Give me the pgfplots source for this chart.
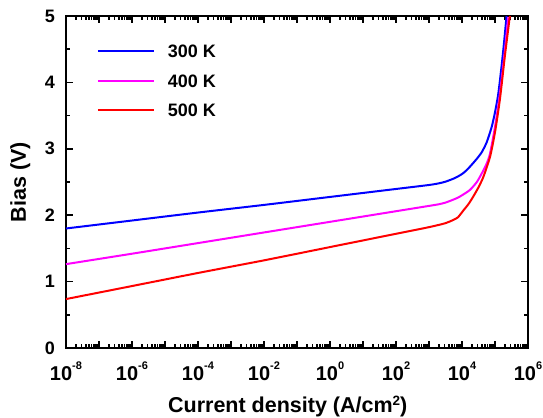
\documentclass[border=0pt]{standalone}
\usepackage{fontspec}
\setmainfont{Liberation Sans}
\usepackage{pgfplots}
\pgfplotsset{compat=1.18}
\newcommand\ep[1]{10\raisebox{11bp}{\fontsize{11bp}{11bp}\selectfont\bfseries #1}}
\begin{document}
\begin{tikzpicture}
% axis 1: frame, ticks and tick labels
\begin{axis}[
  scale only axis, width=462bp, height=332bp,
  xmode=log, xmin=1e-8, xmax=1e6, ymin=0, ymax=5,
  xtick={1e-8,1e-7,1e-6,1e-5,1e-4,1e-3,1e-2,1e-1,1,1e1,1e2,1e3,1e4,1e5,1e6},
  xticklabels={\ep{-8},,\ep{-6},,\ep{-4},,\ep{-2},,\ep{0},,\ep{2},,\ep{4},,\ep{6}},
  ytick={0,1,2,3,4,5}, minor y tick num=1,
  every tick/.style={line width=1.5bp, draw=black},
  major tick length=7bp, minor tick length=4bp,
  tick align=inside,
  /pgf/number format/assume math mode=true,
  xticklabel style={font=\fontsize{20bp}{20bp}\selectfont\bfseries, anchor=base, inner sep=0pt, yshift=-32.7bp},
  yticklabel style={font=\fontsize{18bp}{18bp}\selectfont\bfseries, anchor=east, inner sep=0pt, xshift=-11bp},
]
\addplot[draw=none] coordinates {(1,1) (10,2)};
\end{axis}
% axis 2: curves, labels, legend
\begin{axis}[
  scale only axis, width=462bp, height=332bp,
  xmode=log, xmin=1e-8, xmax=1e6, ymin=0, ymax=5,
  xtick=\empty, ytick=\empty,
  axis line style={line width=2bp},
  xlabel={Current density (A/cm\raisebox{7bp}{\fontsize{13.5bp}{13.5bp}\selectfont 2})},
  ylabel={Bias (V)},
  label style={font=\fontsize{21.5bp}{21.5bp}\selectfont\bfseries, inner sep=0pt},
  xlabel style={at={(axis description cs:0.48,-0.1928)}, anchor=base},
  ylabel style={at={(axis description cs:-0.0866,0.5)}, anchor=base},
  legend style={draw=none, fill=none, at={(axis description cs:0.067,0.914)}, anchor=north west,
    inner sep=0pt, outer sep=0pt, font=\fontsize{18bp}{18bp}\selectfont\bfseries, row sep=16.5bp,
    nodes={inner sep=0pt, text height=13bp, text depth=0pt}},
  legend image code/.code={\draw[#1] (0bp,0bp) -- (56bp,0bp); \path[draw=none] (0bp,0bp) -- (70bp,0bp);},
]
\addplot[line width=2bp, smooth, tension=0.4, color={rgb,255:red,0;green,0;blue,255}] coordinates {
(1e-8,1.80) (1e-6,1.92) (1e-4,2.04) (1e-2,2.155) (1,2.275) (10,2.335) (100,2.395) (1000,2.455) (1995,2.48) (3162,2.505) (5495,2.55) (7943,2.59) (10000,2.62) (12589,2.66) (17378,2.73) (28184,2.85) (39811,2.95) (56234,3.10) (79433,3.33) (100000,3.55) (125893,3.83) (158489,4.25) (186209,4.58) (223872,5.0)
};
\addlegendentry{300 K}
\addplot[line width=2bp, smooth, tension=0.4, color={rgb,255:red,255;green,0;blue,255}] coordinates {
(1e-8,1.263) (1e-6,1.42) (1e-4,1.58) (1e-2,1.74) (1,1.90) (10,1.98) (100,2.06) (1000,2.14) (1995,2.165) (3162,2.19) (5495,2.235) (7943,2.27) (10000,2.30) (17378,2.38) (28184,2.50) (39811,2.63) (56234,2.78) (70795,2.93) (100000,3.33) (141254,3.83) (199526,4.48) (251189,4.98)
};
\addlegendentry{400 K}
\addplot[line width=2bp, smooth, tension=0.4, color={rgb,255:red,255;green,0;blue,0}] coordinates {
(1e-8,0.737) (1e-6,0.933) (1e-4,1.13) (1e-2,1.32) (1,1.52) (10,1.62) (100,1.72) (1000,1.82) (3162,1.88) (5495,1.93) (7586,1.97) (10965,2.07) (15849,2.17) (21878,2.28) (31623,2.42) (44668,2.58) (70795,2.88) (100000,3.25) (141254,3.75) (199526,4.40) (281838,5.0)
};
\addlegendentry{500 K}
\end{axis}
\path ([shift={(-66bp,-70bp)}]current axis.south west) ([shift={(15bp,16bp)}]current axis.north east);
\end{tikzpicture}
\end{document}
